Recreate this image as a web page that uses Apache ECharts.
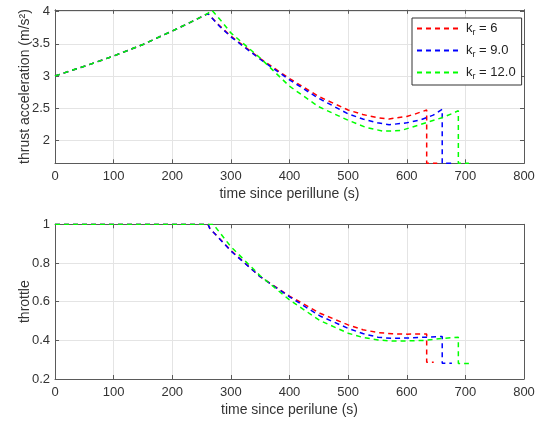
<!DOCTYPE html>
<html><head><meta charset="utf-8">
<script src="https://cdn.jsdelivr.net/npm/echarts@6/dist/echarts.min.js"></script>
<style>html,body{margin:0;padding:0;background:#fff}#c{width:535px;height:421px}</style>
</head><body><div id="c"></div>
<script>
// ---- data ----
const legendNames = ['k_r = 6', 'k_r = 9.0', 'k_r = 12.0'];
const legendValues = ['6', '9.0', '12.0'];
const xTitleTop = 'time since perillune (s)';
const xTitleBottom = 'time since perilune (s)';
const yTitleTop = 'thrust acceleration (m/s\u00B2)';
const yTitleBottom = 'throttle';
const xTicks = [0, 100, 200, 300, 400, 500, 600, 700, 800];
const accTicks = [2, 2.5, 3, 3.5, 4];
const thrTicks = [0.2, 0.4, 0.6, 0.8, 1];

// thrust acceleration (m/s^2) vs time (s)
const accRedT = [0, 50, 100, 150, 200, 230, 261, 263, 280, 300, 350, 400, 450, 500, 525, 550, 570, 600, 615, 634, 634, 652];
const accRedV = [3.00, 3.15, 3.31, 3.49, 3.70, 3.83, 3.97, 3.94, 3.79, 3.62, 3.27, 2.96, 2.68, 2.47, 2.40, 2.35, 2.33, 2.37, 2.41, 2.47, 1.64, 1.64];
const accBlueT = [0, 50, 100, 150, 200, 230, 261, 263, 280, 300, 350, 400, 450, 500, 525, 550, 570, 600, 625, 645, 660.5, 660.5, 678];
const accBlueV = [3.00, 3.15, 3.31, 3.49, 3.70, 3.83, 3.97, 3.94, 3.78, 3.61, 3.26, 2.94, 2.65, 2.41, 2.33, 2.27, 2.24, 2.27, 2.32, 2.39, 2.48, 1.64, 1.64];
const accGreenT = [0, 50, 100, 150, 200, 230, 260, 268, 285, 300, 350, 400, 450, 500, 530, 560, 590, 622, 660, 679, 688, 688, 706];
const accGreenV = [3.00, 3.15, 3.31, 3.49, 3.70, 3.83, 3.97, 4.02, 3.84, 3.67, 3.28, 2.84, 2.52, 2.31, 2.20, 2.14, 2.15, 2.24, 2.35, 2.42, 2.46, 1.64, 1.64];

// throttle vs time (s)
const thrRedT = [0, 261, 264, 300, 350, 400, 452, 500, 525, 551, 575, 600, 634, 634, 646];
const thrRedV = [1.0, 1.0, 0.979, 0.865, 0.729, 0.629, 0.540, 0.480, 0.455, 0.440, 0.434, 0.432, 0.433, 0.287, 0.287];
const thrBlueT = [0, 261, 264, 300, 350, 400, 452, 500, 525, 551, 575, 600, 632, 660.5, 660.5, 677];
const thrBlueV = [1.0, 1.0, 0.979, 0.862, 0.729, 0.625, 0.526, 0.462, 0.435, 0.416, 0.410, 0.412, 0.416, 0.420, 0.282, 0.282];
const thrGreenT = [0, 270, 300, 350, 400, 452, 500, 525, 551, 575, 600, 632, 662, 688, 688, 706];
const thrGreenV = [1.0, 1.0, 0.884, 0.734, 0.609, 0.502, 0.437, 0.415, 0.402, 0.396, 0.397, 0.400, 0.410, 0.416, 0.280, 0.280];

const colors = ['#ff0000', '#0000ff', '#00ff00'];

// ---- chart ----
const zip = (t, v) => t.map((x, i) => [x, v[i]]);
const FONT = 'Liberation Sans, Arial, sans-serif';
const axisColor = '#5a5a5a';
const gridColor = '#e4e4e4';
const textColor = '#333333';

function xAx(gi, name) {
  return [{
    gridIndex: gi, type: 'value', min: 0, max: 800, interval: 100, position: 'bottom',
    name: name, nameLocation: 'middle', nameGap: 24, nameMoveOverlap: false,
    nameTextStyle: {fontFamily: FONT, fontSize: 14, color: textColor},
    axisLine: {show: true, onZero: false, lineStyle: {color: axisColor, width: 1}},
    axisTick: {show: true, inside: true, length: 4, lineStyle: {color: axisColor}},
    axisLabel: {fontFamily: FONT, fontSize: 13, color: textColor, margin: 7},
    splitLine: {show: true, lineStyle: {color: gridColor, width: 1}}
  }, {
    gridIndex: gi, type: 'value', min: 0, max: 800, interval: 100, position: 'top',
    axisLine: {show: true, onZero: false, lineStyle: {color: axisColor, width: 1}},
    axisTick: {show: true, inside: true, length: 4, lineStyle: {color: axisColor}},
    axisLabel: {show: false}, splitLine: {show: false}
  }];
}
function yAx(gi, name, mn, mx, ticks, gap) {
  return [{
    gridIndex: gi, type: 'value', min: mn, max: mx, position: 'left',
    name: name, nameLocation: 'middle', nameGap: gap, nameRotate: 90, nameMoveOverlap: false,
    nameTextStyle: {fontFamily: FONT, fontSize: 14, color: textColor},
    axisLine: {show: true, onZero: false, lineStyle: {color: axisColor, width: 1}},
    axisTick: {show: true, inside: true, length: 4, customValues: ticks, lineStyle: {color: axisColor}},
    axisLabel: {fontFamily: FONT, fontSize: 13, color: textColor, margin: 5, customValues: ticks},
    splitLine: {show: true, lineStyle: {color: gridColor, width: 1}}
  }, {
    gridIndex: gi, type: 'value', min: mn, max: mx, position: 'right',
    axisLine: {show: true, onZero: false, lineStyle: {color: axisColor, width: 1}},
    axisTick: {show: true, inside: true, length: 4, customValues: ticks, lineStyle: {color: axisColor}},
    axisLabel: {show: false, customValues: ticks}, splitLine: {show: false}
  }];
}
function ser(name, data, ci, xi, yi) {
  return {
    name: name, type: 'line', data: data, xAxisIndex: xi, yAxisIndex: yi,
    symbol: 'none', showSymbol: false, clip: true, animation: false,
    lineStyle: {color: colors[ci], width: 1.5, type: [5, 4]},
    itemStyle: {color: colors[ci]}
  };
}

const chart = echarts.init(document.getElementById('c'), null, {renderer: 'canvas'});
chart.setOption({
  animation: false,
  backgroundColor: '#ffffff',
  grid: [
    {left: 55, top: 9.8, width: 469, height: 153.5, outerBoundsMode: 'none', containLabel: false},
    {left: 55, top: 224.3, width: 469, height: 154.7, outerBoundsMode: 'none', containLabel: false}
  ],
  xAxis: [].concat(xAx(0, xTitleTop), xAx(1, xTitleBottom)),
  yAxis: [].concat(yAx(0, yTitleTop, 1.64, 4.03, accTicks, 23), yAx(1, yTitleBottom, 0.2, 1, thrTicks, 23)),
  legend: {
    data: legendNames, orient: 'vertical', left: 412, top: 18,
    itemWidth: 44, itemHeight: 14, itemGap: 7, padding: [4, 6, 4, 4],
    backgroundColor: '#ffffff', borderColor: '#333333', borderWidth: 1,
    itemStyle: {opacity: 0},
    formatter: function (n) {
      const i = legendNames.indexOf(n);
      return '{a|k}{s|r}{a| = ' + legendValues[i] + '}';
    },
    textStyle: {
      fontFamily: FONT, fontSize: 13, color: '#222',
      rich: {
        a: {fontFamily: FONT, fontSize: 13, color: '#222', lineHeight: 17},
        s: {fontFamily: FONT, fontSize: 9, color: '#222', lineHeight: 9, verticalAlign: 'bottom'}
      }
    }
  },
  series: [
    ser(legendNames[0], zip(accRedT, accRedV), 0, 0, 0),
    ser(legendNames[1], zip(accBlueT, accBlueV), 1, 0, 0),
    ser(legendNames[2], zip(accGreenT, accGreenV), 2, 0, 0),
    ser(legendNames[0], zip(thrRedT, thrRedV), 0, 2, 2),
    ser(legendNames[1], zip(thrBlueT, thrBlueV), 1, 2, 2),
    ser(legendNames[2], zip(thrGreenT, thrGreenV), 2, 2, 2)
  ]
});
</script></body></html>
